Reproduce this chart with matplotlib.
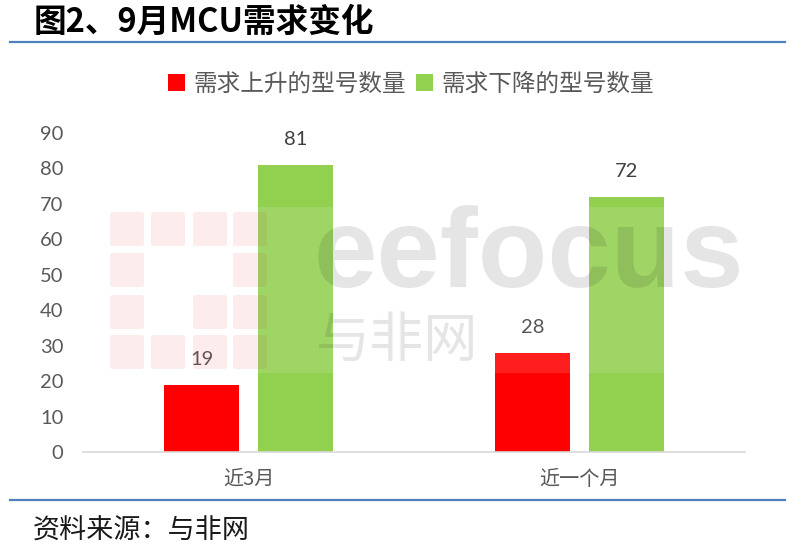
import matplotlib
matplotlib.use("Agg")
import matplotlib.pyplot as plt
from matplotlib.patches import FancyBboxPatch, Rectangle
from matplotlib.lines import Line2D
import numpy as np

plt.rcParams['font.family'] = ['Noto Sans CJK SC', 'DejaVu Sans']

categories = ["近3月", "近一个月"]
series_names = ["需求上升的型号数量", "需求下降的型号数量"]
rise_values = [19, 28]
fall_values = [81, 72]
y_ticks = [0, 10, 20, 30, 40, 50, 60, 70, 80, 90]
title = "图2、9月MCU需求变化"
source = "资料来源：与非网"

W, H = 801, 552
fig = plt.figure(figsize=(W / 100, H / 100), dpi=100)

def fx(px):
    return px / W

def fy(py):
    return 1 - py / H

ax = fig.add_axes([fx(83), fy(452), fx(745) - fx(83), fy(133) - fy(452)])
x = np.arange(len(categories))
bw = 0.224
off = 0.142
red = "#ff0000"
green = "#92d050"
b1 = ax.bar(x - off, rise_values, bw, color=red, label=series_names[0], zorder=2)
b2 = ax.bar(x + off, fall_values, bw, color=green, label=series_names[1], zorder=2)

for bars, vals in ((b1, rise_values), (b2, fall_values)):
    for rect, v in zip(bars, vals):
        ax.annotate(str(v), (rect.get_x() + rect.get_width() / 2, v),
                    xytext=(0, 12), textcoords="offset points",
                    ha="center", va="bottom", fontsize=14.5,
                    family=["Lato", "DejaVu Sans"], color="#404040")

ax.set_xlim(-0.5, len(categories) - 0.5)
ax.set_ylim(0, 90)
ax.set_yticks(y_ticks)
ax.set_yticklabels([str(t) for t in y_ticks], family=["Lato", "DejaVu Sans"],
                   fontsize=14.5, color="#595959")
ax.set_xticks(x)
ax.set_xticklabels(categories, fontsize=14.5, color="#595959")
ax.tick_params(axis="y", length=0, pad=14)
ax.tick_params(axis="x", length=0, pad=12)
for s in ("top", "right", "left"):
    ax.spines[s].set_visible(False)
ax.spines["bottom"].set_color("#d9d9d9")
ax.spines["bottom"].set_linewidth(1.2)

leg = fig.legend(handles=[b1, b2], labels=series_names, loc="center",
                 bbox_to_anchor=(fx(411), fy(84)), ncol=2, frameon=False,
                 fontsize=17, handlelength=0.75, handleheight=0.75,
                 handletextpad=0.35, columnspacing=0.4)
for t in leg.get_texts():
    t.set_color("#595959")

# Title and rules
fig.text(fx(34), fy(22), title, fontsize=23.5, fontweight="bold", va="center", ha="left", color="black")
fig.add_artist(Line2D([fx(10), fx(785)], [fy(42), fy(42)], color="#4f81bd", lw=1.6))
fig.add_artist(Line2D([fx(10), fx(785)], [fy(500), fy(500)], color="#4f81bd", lw=1.6))
fig.text(fx(33), fy(531), source, fontsize=19.5, va="center", ha="left", color="#1a1a1a")

# Watermark overlay
fig.add_artist(Rectangle((fx(108), fy(373)), fx(743) - fx(108), fy(207) - fy(373),
                         transform=fig.transFigure, facecolor="white", alpha=0.12,
                         edgecolor="none", zorder=5))
cols = [110, 151, 193, 233]
rows = [212, 253, 295, 335]
pattern = [[1, 1, 1, 1], [1, 0, 0, 1], [1, 0, 1, 1], [1, 1, 1, 1]]
for r, ry in enumerate(rows):
    for c, cx in enumerate(cols):
        if pattern[r][c]:
            fig.add_artist(FancyBboxPatch((fx(cx), fy(ry + 34)), fx(34), 34 / H,
                                          boxstyle="round,pad=0,rounding_size=0.004",
                                          transform=fig.transFigure,
                                          facecolor="#e03030", alpha=0.09,
                                          edgecolor="none", zorder=6))
fig.text(fx(313), fy(258), "eefocus", fontsize=82, fontweight="bold",
         family=["Liberation Sans", "DejaVu Sans"], color="black", alpha=0.1,
         va="center", ha="left", zorder=7)
fig.text(fx(316), fy(341), "与非网", fontsize=39, color="black", alpha=0.1,
         va="center", ha="left", zorder=7)

fig.savefig("out.png", dpi=100, facecolor="white")
